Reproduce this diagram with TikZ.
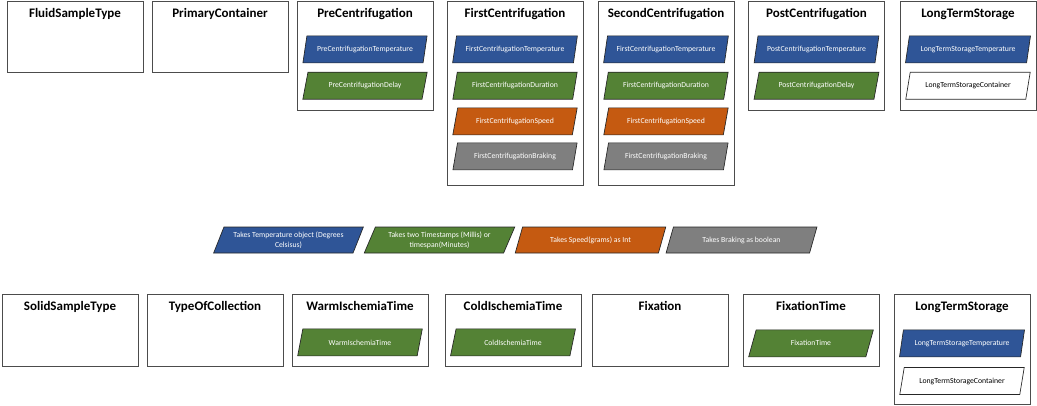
\documentclass[tikz,border=0pt]{standalone}
\usepackage{fontspec}
\setmainfont{Carlito}
\usetikzlibrary{shapes.geometric,positioning}
\definecolor{tempblue}{HTML}{2F5597}
\definecolor{timegreen}{HTML}{548235}
\definecolor{speedorange}{HTML}{C55A11}
\definecolor{brakegray}{HTML}{7F7F7F}
\tikzset{
  box/.style={draw=black!70, line width=0.75pt, minimum width=102pt, inner sep=0pt},
  title/.style={font=\bfseries\fontsize{9.75}{11}\selectfont, inner sep=0pt},
  param/.style={trapezium, trapezium left angle=70, trapezium right angle=110,
    trapezium stretches=true, draw=black!85, line width=0.5pt, fill=#1, text=white,
    minimum width=93.75pt, minimum height=20.25pt, inner sep=1pt,
    font=\fontsize{5.8}{7.5}\selectfont},
  legend/.style={param=#1, trapezium left angle=65, trapezium right angle=115,
    minimum width=113.25pt, minimum height=19.5pt, align=center}
}
\begin{document}
\begin{tikzpicture}[x=0.75pt, y=-0.75pt]
\useasboundingbox[fill=white] (0,0) rectangle (1037,405);
% fluid samples
\node[box, minimum height=53.25pt] (fluid) at (75,36.5) {};
\node[title, below=6pt of fluid.north] (fluid-title) {FluidSampleType};
\node[box, minimum height=53.25pt] (primary) at (220,36.5) {};
\node[title, below=6pt of primary.north] (primary-title) {PrimaryContainer};
\node[box, minimum height=81.75pt] (pre) at (365,55.5) {};
\node[title, below=6pt of pre.north] (pre-title) {PreCentrifugation};
\node[param=tempblue, below=26.25pt of pre.north] (pre-temp) {PreCentrifugationTemperature};
\node[param=timegreen, below=6.5pt of pre-temp] (pre-delay) {PreCentrifugationDelay};
\node[box, minimum height=138pt] (first) at (515,93) {};
\node[title, below=6pt of first.north] (first-title) {FirstCentrifugation};
\node[param=tempblue, below=26.25pt of first.north] (first-temp) {FirstCentrifugationTemperature};
\node[param=timegreen, below=6.5pt of first-temp] (first-dur) {FirstCentrifugationDuration};
\node[param=speedorange, below=6pt of first-dur] (first-speed) {FirstCentrifugationSpeed};
\node[param=brakegray, below=5.5pt of first-speed] (first-brake) {FirstCentrifugationBraking};
\node[box, minimum height=138pt] (second) at (666,93) {};
\node[title, below=6pt of second.north] (second-title) {SecondCentrifugation};
\node[param=tempblue, below=26.25pt of second.north] (second-temp) {FirstCentrifugationTemperature};
\node[param=timegreen, below=6.5pt of second-temp] (second-dur) {FirstCentrifugationDuration};
\node[param=speedorange, below=6pt of second-dur] (second-speed) {FirstCentrifugationSpeed};
\node[param=brakegray, below=5.5pt of second-speed] (second-brake) {FirstCentrifugationBraking};
\node[box, minimum height=81.75pt] (post) at (816.5,55.5) {};
\node[title, below=6pt of post.north] (post-title) {PostCentrifugation};
\node[param=tempblue, below=26.25pt of post.north] (post-temp) {PostCentrifugationTemperature};
\node[param=timegreen, below=6.5pt of post-temp] (post-delay) {PostCentrifugationDelay};
\node[box, minimum height=81.75pt] (lts) at (968,55.5) {};
\node[title, below=6pt of lts.north] (lts-title) {LongTermStorage};
\node[param=tempblue, below=26.25pt of lts.north] (lts-temp) {LongTermStorageTemperature};
\node[param=white, text=black, below=6.5pt of lts-temp] (lts-cont) {LongTermStorageContainer};
% legend
\node[legend=tempblue] (leg-temp) at (288.5,240) {Takes Temperature object (Degrees\\Celsisus)};
\node[legend=timegreen] (leg-time) at (439.5,240) {Takes two Timestamps (Millis) or\\timespan(Minutes)};
\node[legend=speedorange] (leg-speed) at (590.5,240) {Takes Speed(grams) as Int};
\node[legend=brakegray] (leg-brake) at (741.5,240) {Takes Braking as boolean};
% solid samples
\node[box, minimum height=54pt] (solid) at (70,330) {};
\node[title, below=6pt of solid.north] (solid-title) {SolidSampleType};
\node[box, minimum height=54pt] (collect) at (215,330) {};
\node[title, below=6pt of collect.north] (collect-title) {TypeOfCollection};
\node[box, minimum height=54pt] (warm) at (360,330) {};
\node[title, below=6pt of warm.north] (warm-title) {WarmIschemiaTime};
\node[param=timegreen, below=26.25pt of warm.north] (warm-time) {WarmIschemiaTime};
\node[box, minimum height=54pt] (cold) at (513,330) {};
\node[title, below=6pt of cold.north] (cold-title) {ColdIschemiaTime};
\node[param=timegreen, below=26.25pt of cold.north] (cold-time) {ColdIschemiaTime};
\node[box, minimum height=54pt] (fix) at (660,330) {};
\node[title, below=6pt of fix.north] (fix-title) {Fixation};
\node[box, minimum height=54pt] (fixtime) at (811,330) {};
\node[title, below=6pt of fixtime.north] (fixtime-title) {FixationTime};
\node[param=timegreen, below=27pt of fixtime.north] (fixtime-time) {FixationTime};
\node[box, minimum height=82.5pt] (lts2) at (962,349) {};
\node[title, below=6pt of lts2.north] (lts2-title) {LongTermStorage};
\node[param=tempblue, below=27pt of lts2.north] (lts2-temp) {LongTermStorageTemperature};
\node[param=white, text=black, below=7.5pt of lts2-temp] (lts2-cont) {LongTermStorageContainer};
\end{tikzpicture}
\end{document}
